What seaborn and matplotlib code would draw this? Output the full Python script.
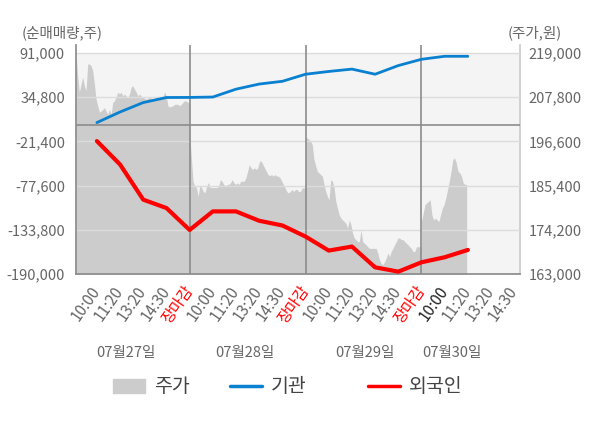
import matplotlib
matplotlib.use('Agg')
import matplotlib.pyplot as plt
from matplotlib.patches import Patch
from matplotlib.lines import Line2D
import matplotlib.transforms as mtransforms
import numpy as np
import pandas as pd
import seaborn as sns

# x labels / dates
times = ['10:00', '11:20', '13:20', '14:30', '장마감']
dates = ['07월27일', '07월28일', '07월29일', '07월30일']

# net buying (shares) at each label time, 17 points
inst = [2500, 16000, 28000, 34400, 34500, 35000, 45000, 51500, 55000,
        64000, 67500, 70500, 64000, 75000, 83000, 86800, 86800]
foreign = [-21000, -50800, -95500, -106100, -134000, -110400, -110400, -122300, -128300,
           -142400, -160200, -155100, -181500, -187000, -175100, -168700, -159400]

price_d1 = [219000, 213100, 209100, 211100, 212900, 210700, 209400, 216200, 216200, 215800,
            214500, 211100, 207300, 205600, 204000, 204300, 204700, 205200, 204300, 203500,
            204700, 203500, 206500, 206900, 207800, 209100, 208600, 209100, 208100, 208600,
            208100, 207800, 208600, 210300, 210700, 209800, 209100, 208100, 208600, 208100,
            207800, 207500, 207300, 207500, 207800, 207500, 207300, 207500, 207800, 207800,
            207800, 207800, 207800, 209100, 208100, 205600, 205300, 205500, 205600, 206000,
            206000, 206000, 205600, 206000, 206500, 206900, 206800, 206500, 206000]
price_d2 = [199200, 192500, 186500, 185200, 184900, 182700, 185400, 184900, 183900, 183600,
            185200, 186200, 184900, 184900, 184900, 184900, 184900, 185200, 186900, 186500,
            185700, 185200, 185700, 185700, 186100, 186900, 186100, 185700, 186100, 185700,
            186500, 186500, 186500, 187400, 189000, 190700, 189900, 189500, 189900, 189500,
            189900, 191600, 191600, 190700, 189900, 189000, 188200, 187900, 188200, 187800,
            188200, 187800, 187800, 187400, 186500, 185700, 184800, 183900, 183500, 183900,
            184400, 183900, 184400, 184400, 183900, 183900, 184800, 184800, 184800]
price_d3 = [197500, 197500, 197100, 196700, 195800, 192000, 190500, 189000, 188600, 188200,
            187800, 185700, 183900, 182700, 181800, 186900, 186500, 184800, 181400, 179700,
            178000, 177200, 176700, 176300, 175900, 174600, 176700, 175500, 173400, 172100,
            171700, 171200, 171200, 174200, 171200, 170800, 170400, 169900, 169500, 169500,
            169500, 169500, 169500, 168300, 166600, 165700, 165300, 166100, 167000, 168300,
            167400, 168700, 169500, 170400, 171200, 172100, 172100, 171700, 171700, 171200,
            170800, 170400, 169900, 169500, 168700, 168700, 169900, 169900, 169900, 169900]
price_d4 = [176300, 178400, 180600, 181000, 181400, 181800, 178000, 176700, 177200, 176700,
            176300, 178000, 179700, 180600, 182300, 184400, 186500, 189000, 192000, 192400,
            191200, 189000, 188600, 187800, 186100, 185700, 185700]
last_day_progress = 0.39

left_ticks = [91000, 34800, -21400, -77600, -133800, -190000]
right_ticks = [219000, 207800, 196600, 185400, 174200, 163000]

sns.set_theme(style='white')
plt.rcParams['font.family'] = ['Noto Sans CJK KR', 'DejaVu Sans']

# build x positions: each day is one unit, labels evenly spaced in a day
label_x, label_txt = [], []
for d in range(len(dates)):
    for k, t in enumerate(times):
        label_x.append(d + (k + 1) / 5)
        label_txt.append(t)
label_x = label_x[:19]
label_txt = label_txt[:19]

line_x = label_x[:len(inst)]
df = pd.DataFrame({'x': line_x, '기관': inst, '외국인': foreign})

px, pv = [], []
for d, vals in enumerate([price_d1, price_d2, price_d3]):
    px.extend(np.linspace(d + 0.02 * (d == 0), d + 1, len(vals)))
    pv.extend(vals)
px.extend(np.linspace(3, 3 + last_day_progress, len(price_d4)))
pv.extend(price_d4)

fig = plt.figure(figsize=(6, 4.28), dpi=100)
ax = fig.add_axes([0.1267, 0.3598, 0.74, 0.5351])
ax2 = ax.twinx()

# price area on right axis
ax2.axhspan(163000, 219000, color='#f4f4f4', lw=0, zorder=0)
ax2.fill_between(px, 163000, pv, color='#cccccc', lw=0, zorder=1)
ax2.set_ylim(163000, 221027)
ax2.set_yticks(right_ticks)
ax2.set_yticklabels([f'{v:,}' for v in right_ticks])

ax.set_zorder(ax2.get_zorder() + 1)
ax.patch.set_visible(False)

for v in left_ticks[:-1]:
    ax.axhline(v, color='#dcdcdc', lw=1, zorder=1)
ax.axhline(0, color='#8c8c8c', lw=1.2, zorder=2)
for d in [1, 2, 3]:
    ax.axvline(d, color='#8c8c8c', lw=1.2, zorder=2)

sns.lineplot(data=df, x='x', y='기관', ax=ax, color='#0a80d0', lw=2, zorder=3)
sns.lineplot(data=df, x='x', y='외국인', ax=ax, color='#ff0000', lw=3, zorder=4)

ax.set_xlim(0.02, 3.85)
ax.set_ylim(-190000, 101172)
ax.set_yticks(left_ticks)
ax.set_yticklabels([f'{v:,}' for v in left_ticks])
ax.set_xlabel('')
ax.set_ylabel('')

ax.set_xticks(label_x)
ax.set_xticklabels(label_txt, rotation=55, ha='right', va='center',
                   rotation_mode='anchor', fontsize=11)
for i, lab in enumerate(ax.get_xticklabels()):
    if lab.get_text() == '장마감':
        lab.set_color('#ff0000')
    elif i == 15:
        lab.set_color('#222222')
    else:
        lab.set_color('#666666')
ax.set_xticks([0.02, 1, 2, 3], minor=True)
ax.tick_params(axis='x', which='major', length=0, pad=10)
ax.tick_params(axis='x', which='minor', length=4, color='#8c8c8c', width=1)
ax.tick_params(axis='y', length=0, pad=8, labelsize=10.5, labelcolor='#666666')
ax2.tick_params(axis='y', length=0, pad=6, labelsize=10.5, labelcolor='#666666')

for s in ['top', 'right']:
    ax.spines[s].set_visible(False)
ax.spines['left'].set_color('#8c8c8c')
ax.spines['bottom'].set_color('#8c8c8c')
ax2.spines['top'].set_visible(False)
ax2.spines['left'].set_visible(False)
ax2.spines['bottom'].set_visible(False)
ax2.spines['right'].set_color('#cccccc')

trans = mtransforms.blended_transform_factory(ax.transData, fig.transFigure)
for xpos, dt in zip([0.45, 1.48, 2.51, 3.26], dates):
    ax.text(xpos, 0.175, dt, transform=trans, ha='center', va='center',
            fontsize=10.5, color='#666666')

fig.text(22 / 600, 1 - 33 / 428, '(순매매량,주)', ha='left', va='center',
         fontsize=10.5, color='#666666')
fig.text(562 / 600, 1 - 33 / 428, '(주가,원)', ha='right', va='center',
         fontsize=10.5, color='#666666')

# legend: one entry per block, placed like the original
entries = [(Patch(color='#cccccc'), '주가', 113),
           (Line2D([], [], color='#0a80d0', lw=2.5), '기관', 230),
           (Line2D([], [], color='#ff0000', lw=2.5), '외국인', 368)]
for h, lab, xpix in entries:
    fig.legend([h], [lab], loc='center left', bbox_to_anchor=(xpix / 600, 0.096),
               frameon=False, fontsize=14, handlelength=1.65, handleheight=0.72,
               handletextpad=0.45, borderpad=0, borderaxespad=0, labelcolor='#444444')

fig.savefig('out.png', dpi=100)
